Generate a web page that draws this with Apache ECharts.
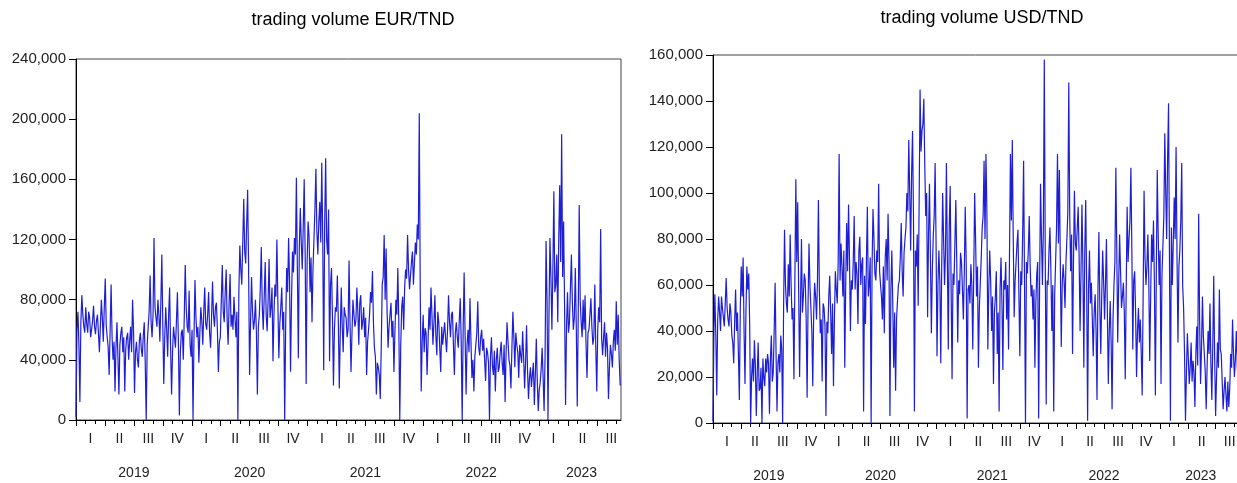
<!DOCTYPE html>
<html>
<head>
<meta charset="utf-8">
<script src="https://cdn.jsdelivr.net/npm/echarts@6/dist/echarts.min.js"></script>
<style>
  html, body { margin: 0; padding: 0; background: #fff; }
  #chart { width: 1237px; height: 483px; }
</style>
</head>
<body>
<div id="chart"></div>
<script>
// Sampling: one observation every STEP_MONTHS months (about 3 days), starting January 2019.
const STEP_MONTHS = 0.1011;
const AXIS_MAX_MONTHS = 56.5;

// Trading volume EUR/TND (thousands)
const eurVolume = [
  2,60, 72,50, 12,65, 83,70, 62,58, 75,64, 58,72, 68,55, 60,66, 76,62,
  57,66, 70,58, 45,62, 80,68, 52,75, 94,63, 55,48, 30,60, 90,55, 40,52,
  19,48, 65,42, 17,50, 58,62, 45,55, 19,47, 55,58, 40,52, 62,45, 80,60,
  18,45, 52,40, 35,53, 58,47, 42,56, 65,38, 0,50, 62,72, 96,65, 55,70,
  121,75, 68,62, 80,70, 52,78, 110,64, 24,55, 75,60, 42,70, 88,48, 17,45,
  62,55, 48,66, 85,52, 3,45, 58,60, 40,68, 103,75, 62,58, 86,50, 42,60,
  0,55, 93,68, 55,62, 38,58, 75,66, 50,72, 88,64, 60,70, 85,58, 48,68,
  92,70, 62,75, 78,60, 32,52, 55,80, 103,72, 65,85, 100,66, 50,78, 97,62,
  70,60, 82,68, 55,72, 0,85, 116,100, 90,118, 147,112, 104,130, 153,100, 30,65,
  95,72, 60,66, 80,58, 17,62, 70,88, 115,76, 60,82, 105,70, 59,80, 107,68,
  75,88, 39,70, 90,82, 120,78, 41,64, 75,88, 60,72, 0,62, 101,85, 121,92,
  32,80, 112,98, 121,110, 161,100, 41,115, 141,118, 100,128, 160,110, 24,105, 132,122,
  85,108, 65,100, 120,140, 167,125, 110,132, 145,118, 171,122, 33,130, 174,120, 110,140,
  39,90, 101,68, 23,60, 75,72, 96,65, 21,58, 88,62, 45,75, 70,68, 55,60,
  106,64, 32,58, 80,70, 62,66, 88,72, 50,78, 83,60, 65,75, 55,68, 30,52,
  60,70, 85,78, 99,65, 48,42, 17,38, 35,30, 14,48, 90,95, 123,80, 114,72,
  48,62, 70,78, 55,66, 32,58, 80,70, 101,65, 0,50, 75,82, 60,88, 100,94,
  123,100, 87,96, 105,112, 90,104, 118,110, 130,120, 204,85, 19,52, 70,45, 61,58,
  30,52, 75,60, 88,70, 50,64, 83,56, 43,72, 65,48, 32,62, 50,58, 65,54,
  45,60, 83,65, 55,70, 72,50, 30,58, 65,55, 48,66, 81,52, 0,60, 98,56,
  17,50, 60,45, 81,52, 28,40, 19,42, 50,58, 79,48, 43,55, 60,46, 54,40,
  26,48, 45,38, 0,42, 55,36, 30,46, 19,40, 48,32, 35,45, 52,38, 30,50,
  12,44, 65,52, 40,36, 21,48, 72,55, 35,58, 50,45, 28,50, 43,38, 59,42,
  21,38, 63,33, 14,28, 35,22, 30,38, 10,30, 54,26, 6,20, 25,34, 48,28,
  6,42, 119,80, 0,70, 121,95, 60,100, 152,85, 90,110, 65,120, 156,105, 190,95,
  132,75, 10,62, 85,58, 65,88, 110,78, 60,68, 101,62, 9,70, 143,80, 65,55,
  80,60, 83,50, 28,58, 60,70, 81,62, 50,55, 90,48, 19,60, 75,65, 127,54,
  43,55, 65,42, 58,48, 14,35, 50,44, 35,52, 60,46, 79,50, 70,40, 23
];

// Trading volume USD/TND (thousands)
const usdVolume = [
  1,40, 56,38, 12,45, 55,48, 40,55, 50,46, 42,52, 63,50, 45,42, 52,48,
  38,35, 26,44, 58,40, 48,30, 10,50, 68,55, 72,40, 17,48, 68,58, 65,42,
  0,20, 28,18, 36,25, 3,22, 35,14, 15,24, 0,28, 20,16, 28,22, 30,26,
  4,28, 38,18, 22,40, 61,30, 5,26, 30,22, 38,32, 0,50, 84,60, 52,48,
  69,55, 82,60, 45,50, 19,62, 106,70, 96,58, 20,52, 80,48, 55,65, 62,45,
  11,52, 78,60, 50,40, 16,48, 61,55, 45,62, 97,58, 39,45, 18,52, 50,42,
  3,44, 39,55, 64,48, 30,52, 16,45, 66,58, 52,70, 117,62, 78,68, 55,75,
  24,60, 87,66, 95,72, 40,62, 58,70, 90,58, 70,65, 43,75, 81,60, 69,72,
  5,64, 43,70, 94,55, 60,72, 0,68, 93,80, 65,62, 75,70, 104,66, 60,55,
  45,68, 39,72, 80,62, 91,70, 3,58, 75,52, 24,48, 14,45, 53,60, 62,72,
  87,66, 55,74, 80,85, 100,92, 123,100, 75,108, 127,90, 5,75, 68,82, 51,95,
  145,118, 127,130, 141,112, 90,100, 46,82, 104,72, 39,66, 81,90, 113,78, 29,60,
  75,62, 26,68, 100,80, 60,74, 113,70, 32,85, 103,58, 19,65, 60,78, 97,70,
  35,62, 56,74, 70,58, 45,66, 94,70, 2,58, 60,52, 69,60, 32,64, 100,80,
  55,68, 24,50, 61,72, 85,90, 114,80, 117,92, 32,58, 75,62, 40,55, 17,48,
  55,66, 30,48, 5,58, 72,52, 23,62, 58,70, 45,60, 32,72, 117,88, 123,80,
  46,62, 70,78, 84,56, 29,66, 60,82, 114,60, 0,70, 65,75, 90,68, 55,60,
  45,58, 24,52, 65,70, 2,60, 104,80, 60,85, 158,72, 8,62, 60,75, 85,66,
  40,60, 5,55, 70,85, 117,78, 110,70, 33,60, 69,62, 50,70, 80,92, 148,90,
  66,82, 30,70, 101,78, 75,85, 94,72, 40,66, 95,68, 24,75, 97,60, 1,58,
  75,52, 61,45, 29,48, 56,40, 10,58, 83,50, 30,55, 75,62, 45,60, 80,48,
  17,40, 53,35, 6,45, 60,70, 111,75, 35,60, 82,66, 50,55, 61,48, 19,58,
  94,70, 80,88, 111,76, 32,62, 66,48, 20,40, 50,35, 45,30, 12,55, 101,72,
  60,68, 82,62, 27,55, 82,70, 88,60, 12,66, 110,82, 60,75, 17,64, 77,90,
  126,100, 80,115, 139,70, 1,85, 60,78, 98,80, 120,72, 35,68, 75,88, 113,60,
  50,30, 1,22, 39,28, 17,24, 35,18, 27,22, 7,30, 42,25, 91,45, 17,32,
  55,38, 30,22, 6,25, 40,30, 52,26, 10,34, 64,28, 3,20, 35,24, 58,32,
  30,18, 6,14, 20,12, 5,18, 7,15, 30,24, 45,30, 20,28, 40,25, 17
];

const titles = ['trading volume EUR/TND', 'trading volume USD/TND'];
const quarterNames = ['I', 'II', 'III', 'IV'];
const years = ['2019', '2020', '2021', '2022', '2023'];
// Year label positions (months since Jan 2019); the last year is only partly shown.
const yearCenters = [6, 18, 30, 42, 52.4];
const eurTicks = { max: 240000, step: 40000 };
const usdTicks = { max: 160000, step: 20000 };

const FONT = '"Liberation Sans", Arial, sans-serif';
const LINE_COLOR = '#1e1ed6';

const monthTicks = [];
for (let m = 0; m <= 56; m++) monthTicks.push(m);
const quarterStarts = monthTicks.filter(m => m % 3 === 0);
const quarterCenters = quarterStarts.map(m => m + 1.5).filter(v => v < AXIS_MAX_MONTHS);

const toPairs = vals => vals.map((v, i) => [i * STEP_MONTHS, v * 1000]);

function xAxesFor(g) {
  return [
    {
      gridIndex: g, type: 'value', min: 0, max: AXIS_MAX_MONTHS, position: 'bottom',
      axisLine: { show: true, onZero: false, lineStyle: { color: '#000', width: 1 } },
      axisTick: { show: true, customValues: monthTicks, length: 4, lineStyle: { color: '#000' } },
      axisLabel: {
        show: true, customValues: quarterCenters, margin: 12,
        fontSize: 14, color: '#222', fontFamily: FONT,
        formatter: v => quarterNames[Math.floor(v / 3) % 4]
      },
      splitLine: { show: false }
    },
    {
      gridIndex: g, type: 'value', min: 0, max: AXIS_MAX_MONTHS, position: 'bottom',
      axisLine: { show: false, onZero: false },
      axisTick: { show: true, customValues: quarterStarts, length: 6, lineStyle: { color: '#000' } },
      axisLabel: {
        show: true, customValues: yearCenters, margin: 46,
        fontSize: 14, color: '#222', fontFamily: FONT,
        formatter: v => years[yearCenters.indexOf(v)]
      },
      splitLine: { show: false }
    }
  ];
}

function yAxisFor(g, ticks) {
  return {
    gridIndex: g, type: 'value', min: 0, max: ticks.max, interval: ticks.step,
    axisLine: { show: true, lineStyle: { color: '#000' } },
    axisTick: { show: true, length: 7, inside: false, lineStyle: { color: '#000' } },
    axisLabel: {
      margin: 10, fontSize: 15, color: '#222', fontFamily: FONT,
      formatter: v => v.toLocaleString('en-US')
    },
    splitLine: { show: false }
  };
}

const chart = echarts.init(document.getElementById('chart'), null, { renderer: 'canvas' });
chart.setOption({
  animation: false,
  backgroundColor: '#fff',
  title: [
    { text: titles[0], left: 348, top: 6, textAlign: 'center',
      textStyle: { fontSize: 18, fontWeight: 'normal', color: '#000', fontFamily: FONT } },
    { text: titles[1], left: 977, top: 4, textAlign: 'center',
      textStyle: { fontSize: 18, fontWeight: 'normal', color: '#000', fontFamily: FONT } }
  ],
  grid: [
    { left: 76, top: 59, width: 545, height: 361, show: true, borderColor: '#444', borderWidth: 1,
      outerBoundsMode: 'none', containLabel: false },
    { left: 713, top: 55, width: 526, height: 368, show: true, borderColor: '#444', borderWidth: 1,
      outerBoundsMode: 'none', containLabel: false }
  ],
  xAxis: [...xAxesFor(0), ...xAxesFor(1)],
  yAxis: [yAxisFor(0, eurTicks), yAxisFor(1, usdTicks)],
  series: [
    { type: 'line', xAxisIndex: 0, yAxisIndex: 0, data: toPairs(eurVolume),
      showSymbol: false, symbol: 'none', lineStyle: { width: 1.2, color: LINE_COLOR }, silent: true },
    { type: 'line', xAxisIndex: 2, yAxisIndex: 1, data: toPairs(usdVolume),
      showSymbol: false, symbol: 'none', lineStyle: { width: 1.2, color: LINE_COLOR }, silent: true }
  ]
});
</script>
</body>
</html>
